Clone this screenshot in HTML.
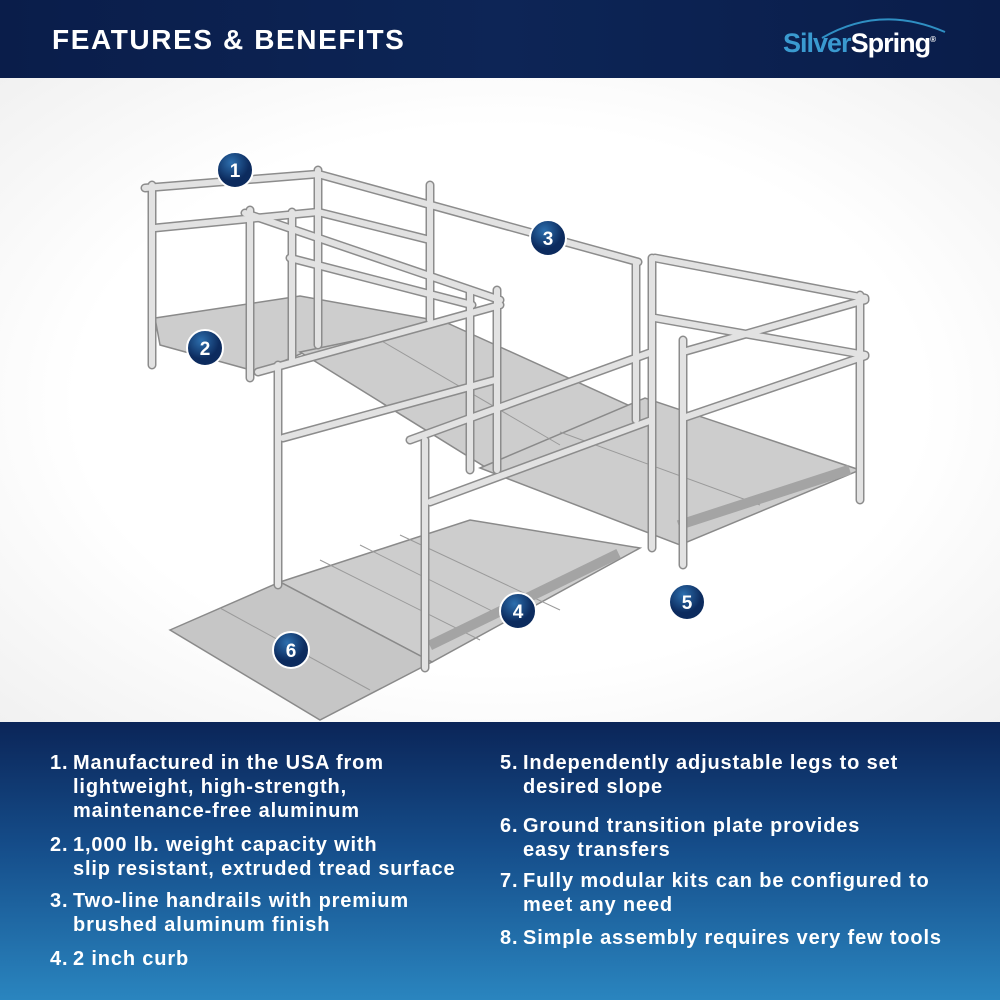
<!DOCTYPE html>
<html><head><style>
*{margin:0;padding:0;box-sizing:border-box}
body{width:1000px;height:1000px;overflow:hidden;font-family:"Liberation Sans",sans-serif;background:#fff;position:relative}
#hdr{position:absolute;left:0;top:0;width:1000px;height:78px;background:linear-gradient(90deg,#0a1d4a,#0d2556 50%,#0a1d4a)}
#hdr h1{position:absolute;left:52px;top:24px;color:#fff;font-size:28px;font-weight:bold;letter-spacing:1.6px}
#logo{position:absolute;left:783px;top:28px;font-size:27px;font-weight:bold;letter-spacing:-1px}
#mid{position:absolute;left:0;top:78px;width:1000px;height:644px;background:radial-gradient(ellipse at 50% 50%,#fff 60%,#f1f1f1)}
#bot{position:absolute;left:0;top:722px;width:1000px;height:278px;background:linear-gradient(180deg,#0b2558 0%,#154d8a 45%,#2a85bf 100%);color:#fff;font-weight:bold;font-size:20px;letter-spacing:0.85px;line-height:24px}
.it{position:absolute;white-space:nowrap}
.it span{display:inline-block;width:23px}
.it .c{padding-left:23px}
</style></head><body>
<div id="hdr"><h1>FEATURES &amp; BENEFITS</h1>
<svg style="position:absolute;left:820px;top:10px" width="130" height="30"><path d="M2 28 Q60 -6 125 22" stroke="#2f8fc3" stroke-width="2" fill="none"/></svg>
<div id="logo"><span style="color:#3a9ad0">Silver</span><span style="color:#fff">Spring</span><sup style="font-size:8px;color:#fff">®</sup></div></div>
<div id="mid"></div>
<svg style="position:absolute;left:0;top:0" width="1000" height="722">
<g fill="#cdcdcd" stroke="#8a8a8a" stroke-width="1.5">
<polygon points="155,318 300,296 445,322 305,352 258,372 160,345"/>
<polygon points="300,352 445,322 650,415 490,470"/>
<polygon points="480,468 645,398 860,470 680,545"/>
<polygon points="280,582 470,520 640,548 432,662"/>
<polygon points="170,630 280,582 432,662 320,720" fill="#c6c6c6"/>
</g>
<g stroke="#9a9a9a" stroke-width="1">
<line x1="220" y1="608" x2="370" y2="690"/><line x1="320" y1="560" x2="480" y2="640"/><line x1="360" y1="545" x2="520" y2="625"/><line x1="400" y1="535" x2="560" y2="610"/>
<line x1="560" y1="432" x2="760" y2="505"/><line x1="380" y1="340" x2="560" y2="445"/>
</g>
<g fill="#a4a4a4"><rect x="432" y="640" width="210" height="10" transform="rotate(-26 432 650)"/><rect x="680" y="520" width="180" height="10" transform="rotate(-18 680 530)"/></g>
<g stroke="#8c8c8c" stroke-width="9" stroke-linecap="round" fill="none">
<path d="M145 188 L318 174 L638 262"/><path d="M155 228 L318 212 L430 240"/><path d="M245 213 L500 300"/><path d="M290 258 L472 305"/>
<path d="M655 258 L865 298"/><path d="M655 318 L865 355"/><path d="M683 352 L865 300"/><path d="M683 418 L865 356"/>
<path d="M258 372 L500 305"/><path d="M283 438 L495 380"/><path d="M410 440 L652 352"/><path d="M430 502 L652 420"/>
<path d="M152 185 V365 M318 170 V345 M430 185 V320 M250 210 V378 M292 212 V360 M470 290 V470 M497 290 V470 M636 262 V420 M652 258 V548 M860 295 V500 M683 340 V565 M278 365 V585 M425 440 V668"/>
</g>
<g stroke="#e2e2e2" stroke-width="6" stroke-linecap="round" fill="none">
<path d="M145 188 L318 174 L638 262"/><path d="M155 228 L318 212 L430 240"/><path d="M245 213 L500 300"/><path d="M290 258 L472 305"/>
<path d="M655 258 L865 298"/><path d="M655 318 L865 355"/><path d="M683 352 L865 300"/><path d="M683 418 L865 356"/>
<path d="M258 372 L500 305"/><path d="M283 438 L495 380"/><path d="M410 440 L652 352"/><path d="M430 502 L652 420"/>
<path d="M152 185 V365 M318 170 V345 M430 185 V320 M250 210 V378 M292 212 V360 M470 290 V470 M497 290 V470 M636 262 V420 M652 258 V548 M860 295 V500 M683 340 V565 M278 365 V585 M425 440 V668"/>
</g>
<defs><radialGradient id="bg" cx="40%" cy="30%"><stop offset="0" stop-color="#2d6fae"/><stop offset="1" stop-color="#0c2b5e"/></radialGradient></defs>
<g font-family="Liberation Sans" font-weight="bold" font-size="19" fill="#fff" text-anchor="middle">
<g><circle cx="235" cy="170" r="18" fill="url(#bg)" stroke="#fff" stroke-width="2"/><text x="235" y="177">1</text></g>
<g><circle cx="205" cy="348" r="18" fill="url(#bg)" stroke="#fff" stroke-width="2"/><text x="205" y="355">2</text></g>
<g><circle cx="548" cy="238" r="18" fill="url(#bg)" stroke="#fff" stroke-width="2"/><text x="548" y="245">3</text></g>
<g><circle cx="518" cy="611" r="18" fill="url(#bg)" stroke="#fff" stroke-width="2"/><text x="518" y="618">4</text></g>
<g><circle cx="687" cy="602" r="18" fill="url(#bg)" stroke="#fff" stroke-width="2"/><text x="687" y="609">5</text></g>
<g><circle cx="291" cy="650" r="18" fill="url(#bg)" stroke="#fff" stroke-width="2"/><text x="291" y="657">6</text></g>
</g>
</svg>
<div id="bot">
<div class="it" style="left:50px;top:29px"><span>1.</span>Manufactured in the USA from<div class="c">lightweight, high-strength,</div><div class="c">maintenance-free aluminum</div></div>
<div class="it" style="left:50px;top:111px"><span>2.</span>1,000 lb. weight capacity with<div class="c">slip resistant, extruded tread surface</div></div>
<div class="it" style="left:50px;top:167px"><span>3.</span>Two-line handrails with premium<div class="c">brushed aluminum finish</div></div>
<div class="it" style="left:50px;top:225px"><span>4.</span>2 inch curb</div>
<div class="it" style="left:500px;top:29px"><span>5.</span>Independently adjustable legs to set<div class="c">desired slope</div></div>
<div class="it" style="left:500px;top:92px"><span>6.</span>Ground transition plate provides<div class="c">easy transfers</div></div>
<div class="it" style="left:500px;top:147px"><span>7.</span>Fully modular kits can be configured to<div class="c">meet any need</div></div>
<div class="it" style="left:500px;top:204px"><span>8.</span>Simple assembly requires very few tools</div>
</div>
</body></html>
